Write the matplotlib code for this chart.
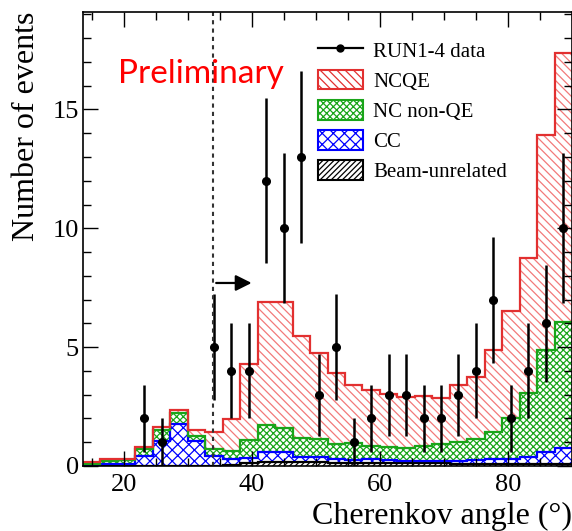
import numpy as np
import matplotlib
matplotlib.use("Agg")
import matplotlib.pyplot as plt
from matplotlib.patches import Patch
from matplotlib.lines import Line2D

# histogram: 33 bins over 0-90 deg, bins 5..32 are inside the frame
edges = np.linspace(0, 90, 34)[5:]

beam = [0.02, 0.02, 0.02, 0.02, 0.02, 0.02, 0.02, 0.02, 0.05, 0.12, 0.18, 0.18, 0.18, 0.15,
        0.12, 0.12, 0.12, 0.12, 0.12, 0.12, 0.12, 0.10, 0.10, 0.10, 0.10, 0.10, 0.10, 0.10]
cc = [0.04, 0.06, 0.08, 0.38, 1.02, 1.74, 1.05, 0.38, 0.25, 0.21, 0.40, 0.40, 0.21, 0.22,
      0.16, 0.13, 0.19, 0.13, 0.09, 0.09, 0.09, 0.11, 0.15, 0.18, 0.21, 0.29, 0.47, 0.66]
nc_nonqe = [0.04, 0.12, 0.15, 0.30, 0.48, 0.47, 0.18, 0.32, 0.35, 0.75, 1.15, 1.03, 0.79, 0.75,
            0.65, 0.71, 0.55, 0.56, 0.56, 0.65, 0.70, 0.79, 0.89, 1.17, 1.73, 2.67, 4.32, 5.28]
ncqe = [0.05, 0.10, 0.05, 0.10, 0.13, 0.14, 0.27, 0.69, 1.33, 3.20, 5.17, 5.29, 4.30, 3.63,
        2.97, 2.45, 2.34, 2.22, 2.15, 2.10, 1.97, 2.41, 2.62, 3.44, 4.49, 5.69, 9.05, 11.34]
data = [0, 0, 0, 2, 1, 0, 0, 5, 4, 4, 12, 10, 13, 3,
        5, 1, 2, 3, 3, 2, 2, 3, 4, 7, 2, 4, 6, 10]

cut_angle = 34
labels = ["RUN1-4 data", "NCQE", "NC non-QE", "CC", "Beam-unrelated"]

plt.rcParams["font.family"] = "Liberation Serif"
plt.rcParams["hatch.linewidth"] = 0.9

fig = plt.figure(figsize=(5.72, 5.31), dpi=100)
ax = fig.add_axes([83 / 572, 1 - 466 / 531, 489 / 572, 454 / 531])

layers = [beam, cc, nc_nonqe, ncqe]
styles = [("black", "black", "//////"),
          ("blue", "blue", "xxx"),
          ("#1aa51a", "#1aa51a", "xxxxx"),
          ("#e23030", "#f27a7a", "\\\\\\\\")]
tops = np.cumsum(layers, axis=0)
bottoms = np.vstack([np.zeros(len(beam)), tops[:-1]])

for top, bot, (lc, hc, h) in zip(tops, bottoms, styles):
    ax.stairs(top, edges, baseline=bot, fill=True, facecolor="white",
              edgecolor=hc, hatch=h, lw=0)
for top, (lc, hc, h) in zip(tops, styles):
    ax.stairs(top, edges, baseline=None, color=lc, lw=1.6)

centers = (edges[:-1] + edges[1:]) / 2
counts = np.array(data, dtype=float)
m = counts > 0
ax.errorbar(centers[m], counts[m], yerr=np.sqrt(counts[m]), fmt="o", color="black",
            ms=5.5, lw=1.8, capsize=0)

ax.axvline(cut_angle, color="#333333", lw=1.5, ls=(0, (2, 2)))
ax.annotate("", xy=(40.4, 7.7), xytext=(cut_angle, 7.7),
            arrowprops=dict(arrowstyle="-|>", color="black", lw=1.6, mutation_scale=24))

ax.set_xlim(edges[0], 90)
ax.set_ylim(0, 19.1)
ax.set_xticks([20, 40, 60, 80])
ax.set_yticks([0, 5, 10, 15])
ax.xaxis.set_minor_locator(matplotlib.ticker.MultipleLocator(5))
ax.yaxis.set_minor_locator(matplotlib.ticker.MultipleLocator(1))
ax.tick_params(which="both", direction="in", top=True, right=True, labelsize=19, width=1)
ax.tick_params(which="major", length=11)
ax.tick_params(which="minor", length=5.5)
ax.tick_params(axis="x", pad=6)
ax.tick_params(axis="y", pad=3)
for s in ax.spines.values():
    s.set_linewidth(1.2)

ax.set_xlabel("Cherenkov angle (°)", fontsize=23, loc="right", labelpad=4)
ax.set_ylabel("Number of events", fontsize=23, loc="top", labelpad=8)

handles = [Line2D([], [], color="black", marker="o", ms=5, lw=1.6)]
for lc, hc, h in styles[::-1]:
    handles.append(Patch(facecolor="white", edgecolor=lc, hatch=h, lw=1.5))
leg = ax.legend(handles, labels, loc="upper left", bbox_to_anchor=(318 / 572, 1 - 40 / 531),
                bbox_transform=fig.transFigure, frameon=False, fontsize=15,
                handlelength=2.15, handleheight=1.05, handletextpad=0.5,
                labelspacing=0.4, borderpad=0, borderaxespad=0)

fig.text(201 / 572, 1 - 83 / 531, "Preliminary", color="red", fontsize=24,
         family="Lato", ha="center", va="baseline")

fig.savefig("out.png", dpi=100)
